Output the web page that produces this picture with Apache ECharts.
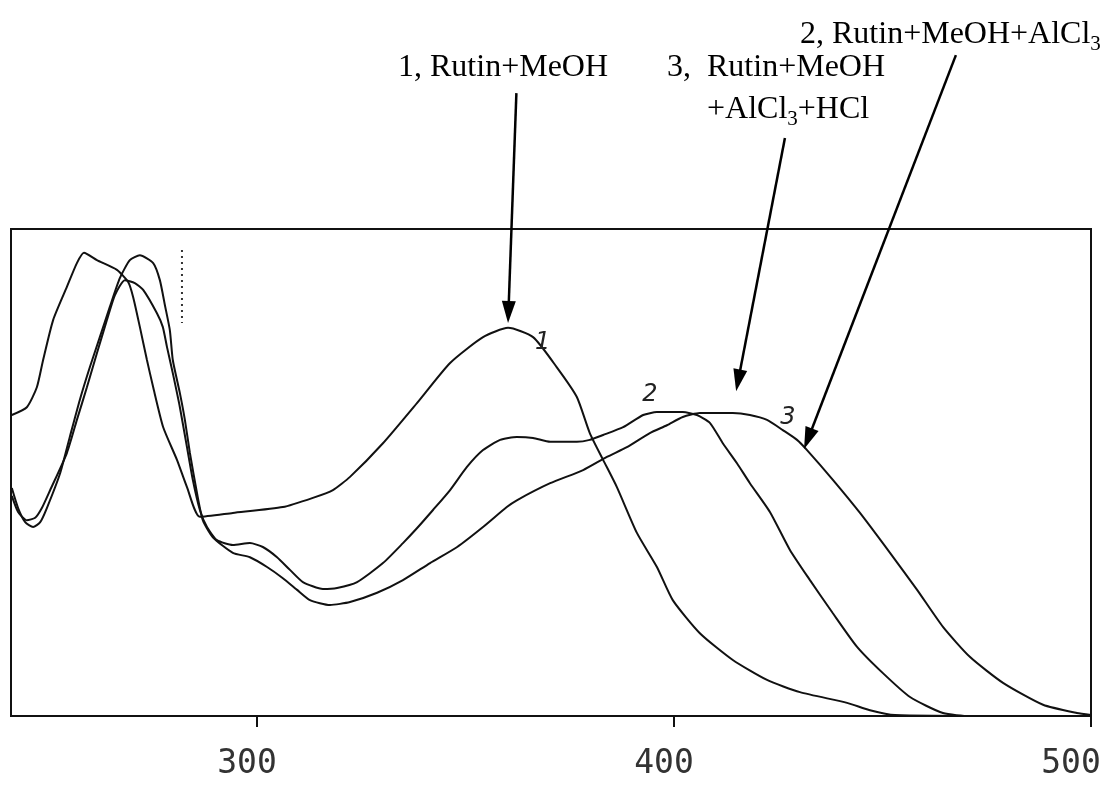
<!DOCTYPE html>
<html>
<head>
<meta charset="utf-8">
<script src="https://cdn.jsdelivr.net/npm/echarts@6/dist/echarts.min.js"></script>
<style>
html,body{margin:0;padding:0;background:#fff;}
#chart{width:1107px;height:785px;}
</style>
</head>
<body>
<div id="chart"></div>
<script>
// Wavelength (nm) and relative absorbance
const wl1 = [241.2,244.8,247.2,248.7,251.1,254.4,256.8,258.5,261.6,266.4,269.1,270.3,271.9,273.6,275.1,277.5,280.8,283.2,286.3,294.2,306.2,313.4,318.2,322.3,330.2,338.4,346.3,354.2,360.2,366.2,371.9,376.7,379.8,383.0,386.3,391.1,395.9,399.7,406.2,414.1,422.3,430.2,441.5,447.0,453.0,478.0,500.0];
const abs1 = [0.618,0.634,0.675,0.731,0.813,0.881,0.930,0.951,0.936,0.916,0.891,0.860,0.799,0.731,0.675,0.593,0.526,0.470,0.409,0.417,0.429,0.448,0.464,0.491,0.560,0.643,0.725,0.778,0.797,0.778,0.716,0.655,0.581,0.526,0.470,0.376,0.306,0.238,0.170,0.115,0.074,0.049,0.027,0.012,0.002,0.000,0.000];

const wl2 = [241.2,242.7,244.8,246.8,248.4,250.4,254.4,256.8,259.2,261.6,264.0,265.9,268.3,270.7,272.7,276.0,277.4,278.4,279.8,281.5,283.2,284.6,286.3,288.0,290.4,294.2,298.3,301.4,304.8,307.9,311.0,315.8,319.2,324.0,330.2,335.0,338.4,342.2,346.3,350.3,354.2,358.3,362.3,366.2,370.3,376.7,379.8,383.0,387.8,392.6,395.9,402.1,405.5,408.6,411.7,415.1,418.2,423.0,427.8,432.6,438.1,443.9,450.1,456.6,464.5,471.0,500.0];
const abs2 = [0.452,0.419,0.402,0.407,0.427,0.464,0.540,0.608,0.675,0.745,0.813,0.864,0.895,0.889,0.875,0.827,0.799,0.758,0.704,0.634,0.552,0.485,0.423,0.388,0.361,0.351,0.355,0.347,0.326,0.300,0.275,0.261,0.263,0.275,0.314,0.355,0.386,0.423,0.464,0.511,0.546,0.567,0.573,0.571,0.563,0.563,0.567,0.577,0.593,0.618,0.624,0.624,0.618,0.602,0.560,0.519,0.478,0.419,0.341,0.279,0.211,0.142,0.088,0.039,0.006,0.000,0.000];

const wl3 = [241.2,242.7,244.4,246.3,248.0,249.6,252.8,255.1,257.5,259.9,262.3,264.7,267.1,269.5,271.9,275.1,276.7,277.9,279.1,279.8,281.5,282.7,283.9,285.6,287.0,289.4,294.2,298.3,302.4,306.2,309.6,312.7,317.5,322.3,328.8,335.0,341.5,348.0,354.2,359.9,362.3,370.3,378.2,383.9,388.7,394.2,398.3,402.1,406.2,414.1,418.2,422.3,426.1,429.5,431.9,438.1,444.6,451.8,458.3,464.5,471.0,478.9,488.5,496.6,500.0];
const abs3 = [0.468,0.427,0.398,0.388,0.398,0.427,0.499,0.573,0.649,0.716,0.778,0.840,0.899,0.936,0.946,0.930,0.895,0.844,0.792,0.731,0.663,0.608,0.540,0.458,0.402,0.367,0.335,0.326,0.306,0.283,0.259,0.238,0.228,0.234,0.253,0.279,0.314,0.347,0.388,0.429,0.443,0.478,0.505,0.532,0.552,0.581,0.597,0.614,0.622,0.622,0.618,0.608,0.587,0.567,0.546,0.485,0.417,0.335,0.259,0.183,0.121,0.068,0.023,0.006,0.002];

// dotted scan mark near 282 nm
const markWl = [282.0, 282.0];
const markAbs = [0.957, 0.807];

const tickValues = [300, 400, 500];

// annotations in data coordinates
const curveNumbers = [
  {text: '1', at: [368.5, 0.766]},
  {text: '2', at: [394.2, 0.660]},
  {text: '3', at: [427.3, 0.612]}
];
const arrows = [
  {tail: [362.2, 1.279], tip: [360.2, 0.807]},
  {tail: [426.6, 1.187], tip: [414.9, 0.667]},
  {tail: [467.6, 1.357], tip: [431.2, 0.548]}
];

function zip(a, b) { return a.map((v, i) => [v, b[i]]); }

const chart = echarts.init(document.getElementById('chart'), null, {renderer: 'canvas'});
const lineStyle = {color: '#111', width: 2};
const labelFont = {fontFamily: 'DejaVu Sans Mono', fontSize: 33, color: '#333'};
chart.setOption({
  animation: false,
  backgroundColor: '#fff',
  grid: {left: 11, right: 16, top: 229, bottom: 69, containLabel: false, outerBoundsMode: 'none',
    show: true, borderColor: '#111', borderWidth: 2, backgroundColor: 'transparent'},
  xAxis: {
    type: 'value', min: 241, max: 500,
    splitLine: {show: false},
    axisLine: {show: true, lineStyle: {color: '#111', width: 2}},
    axisTick: {show: true, inside: false, length: 11, customValues: tickValues, lineStyle: {color: '#111', width: 2}},
    axisLabel: {
      show: true, customValues: tickValues, margin: 32, hideOverlap: false,
      formatter: (v) => (v === 500 ? '{e|' + v + '}' : '{m|' + v + '}'),
      rich: {
        m: Object.assign({padding: [0, 20, 0, 0]}, labelFont),
        e: Object.assign({padding: [0, 40, 0, 0]}, labelFont)
      }
    }
  },
  yAxis: {type: 'value', min: 0, max: 1, show: false, splitLine: {show: false}},
  series: [
    {type: 'line', name: '1', data: zip(wl1, abs1), showSymbol: false, smooth: 0.2, lineStyle: lineStyle},
    {type: 'line', name: '2', data: zip(wl2, abs2), showSymbol: false, smooth: 0.2, lineStyle: lineStyle},
    {type: 'line', name: '3', data: zip(wl3, abs3), showSymbol: false, smooth: 0.2, lineStyle: lineStyle},
    {type: 'line', name: 'mark', data: zip(markWl, markAbs), showSymbol: false, lineStyle: {color: '#333', width: 2, type: [2, 4]}}
  ]
});

const P = (p) => chart.convertToPixel({gridIndex: 0}, p);
const serif = 'Liberation Serif, Times New Roman, serif';
const rich = {
  n: {fontFamily: serif, fontSize: 32, lineHeight: 40, fill: '#000'},
  s: {fontFamily: serif, fontSize: 21, lineHeight: 24, verticalAlign: 'bottom', fill: '#000'}
};
const graphics = [];
function addText(x, baselineY, txt) {
  graphics.push({type: 'text', x: x, y: baselineY - 30, z: 100,
    style: {text: txt, rich: rich, fill: '#000', verticalAlign: 'top', align: 'left'}});
}
addText(800, 45, '{n|2, Rutin+MeOH+AlCl}{s|3}');
addText(398, 78, '{n|1, Rutin+MeOH}');
addText(667, 78, '{n|3,  Rutin+MeOH}');
addText(707, 120, '{n|+AlCl}{s|3}{n|+HCl}');

curveNumbers.forEach(c => {
  const p = P(c.at);
  graphics.push({type: 'text', x: p[0], y: p[1], z: 100,
    style: {text: c.text, fontFamily: 'DejaVu Sans', fontStyle: 'italic', fontSize: 24, fill: '#222', align: 'center', verticalAlign: 'middle'}});
});

arrows.forEach(a => {
  const t = P(a.tail), h = P(a.tip);
  const dx = h[0] - t[0], dy = h[1] - t[1];
  const L = Math.sqrt(dx * dx + dy * dy);
  const ux = dx / L, uy = dy / L;
  const hl = 22, hw = 7;
  const bx = h[0] - ux * hl, by = h[1] - uy * hl;
  graphics.push({type: 'line', z: 100, shape: {x1: t[0], y1: t[1], x2: bx + ux * 2, y2: by + uy * 2},
    style: {stroke: '#000', lineWidth: 2.5}});
  graphics.push({type: 'polygon', z: 100, shape: {points: [[h[0], h[1]], [bx - uy * hw, by + ux * hw], [bx + uy * hw, by - ux * hw]]},
    style: {fill: '#000'}});
});

chart.setOption({graphic: graphics});
</script>
</body>
</html>
